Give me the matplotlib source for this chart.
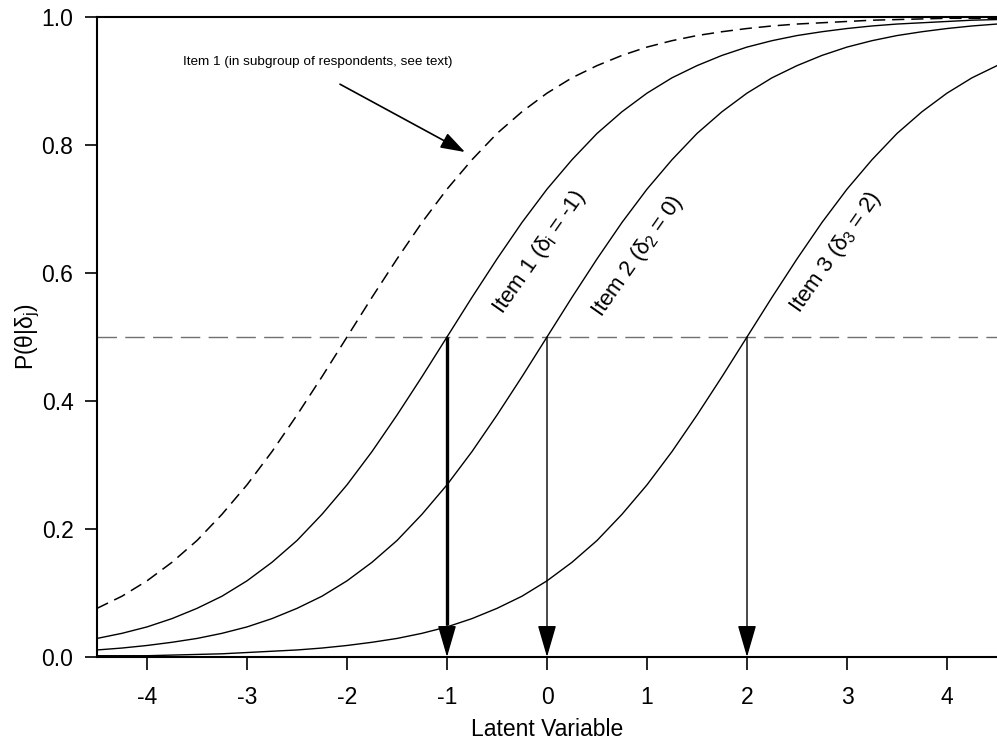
import numpy as np
import matplotlib
matplotlib.use("Agg")
import matplotlib.pyplot as plt

plt.rcParams['font.family'] = ['Liberation Sans', 'DejaVu Sans']
plt.rcParams['mathtext.fontset'] = 'custom'
plt.rcParams['mathtext.rm'] = 'Liberation Sans'
plt.rcParams['mathtext.it'] = 'Liberation Sans'
plt.rcParams['axes.unicode_minus'] = False

# latent variable grid (theta), step 0.25
theta = np.arange(-4.5, 4.51, 0.25)

# probabilities
item1_sub = [0.076, 0.095, 0.119, 0.148, 0.182, 0.223, 0.269, 0.321, 0.378, 0.438,
             0.500, 0.562, 0.622, 0.679, 0.731, 0.777, 0.818, 0.852, 0.881, 0.905,
             0.924, 0.940, 0.953, 0.963, 0.971, 0.977, 0.982, 0.986, 0.989, 0.991,
             0.993, 0.995, 0.996, 0.997, 0.998, 0.998, 0.998]
item1 = [0.029, 0.037, 0.047, 0.060, 0.076, 0.095, 0.119, 0.148, 0.182, 0.223,
         0.269, 0.321, 0.378, 0.438, 0.500, 0.562, 0.622, 0.679, 0.731, 0.777,
         0.818, 0.852, 0.881, 0.905, 0.924, 0.940, 0.953, 0.963, 0.971, 0.977,
         0.982, 0.986, 0.989, 0.991, 0.993, 0.995, 0.996]
item2 = [0.011, 0.014, 0.018, 0.023, 0.029, 0.037, 0.047, 0.060, 0.076, 0.095,
         0.119, 0.148, 0.182, 0.223, 0.269, 0.321, 0.378, 0.438, 0.500, 0.562,
         0.622, 0.679, 0.731, 0.777, 0.818, 0.852, 0.881, 0.905, 0.924, 0.940,
         0.953, 0.963, 0.971, 0.977, 0.982, 0.986, 0.989]
item3 = [0.002, 0.002, 0.002, 0.003, 0.004, 0.005, 0.007, 0.009, 0.011, 0.014,
         0.018, 0.023, 0.029, 0.037, 0.047, 0.060, 0.076, 0.095, 0.119, 0.148,
         0.182, 0.223, 0.269, 0.321, 0.378, 0.438, 0.500, 0.562, 0.622, 0.679,
         0.731, 0.777, 0.818, 0.852, 0.881, 0.905, 0.924]

# item difficulties (where P = 0.5)
deltas = [-1, 0, 2]
thick_arrow = [True, False, False]
labels = [r'Item 1 ($\delta_i$ = -1)', r'Item 2 ($\delta_2$ = 0)', r'Item 3 ($\delta_3$ = 2)']
label_pos = [(-0.08, 0.632), (0.91, 0.626), (2.89, 0.632)]

fig = plt.figure(figsize=(9.97, 7.42), dpi=100)
ax = fig.add_axes([97 / 997, 1 - 657 / 742, 900 / 997, 640 / 742])

ax.axhline(0.5, color='#707070', lw=1.0, ls=(0, (14, 6)), zorder=1)

ax.plot(theta, item1_sub, color='black', lw=1.1, ls=(0, (8, 4.5)))
ax.plot(theta, item1, color='black', lw=1.0)
ax.plot(theta, item2, color='black', lw=1.0)
ax.plot(theta, item3, color='black', lw=1.0)

for d, thick in zip(deltas, thick_arrow):
    ax.annotate('', xy=(d, 0.0), xytext=(d, 0.5),
                arrowprops=dict(arrowstyle='-|>,head_length=2.0,head_width=0.58',
                                color='black', lw=1.0, shrinkA=0, shrinkB=0))
    if thick:
        ax.plot([d, d], [0.5, 0.05], color='black', lw=2.4, solid_capstyle='butt')

for lab, (x, y) in zip(labels, label_pos):
    ax.text(x, y, lab, rotation=55, fontsize=16, ha='center', va='center',
            rotation_mode='anchor')

ax.annotate('', xy=(-0.82, 0.789), xytext=(-2.07, 0.895),
            arrowprops=dict(arrowstyle='-|>,head_length=1.5,head_width=0.5',
                            color='black', lw=1.2, shrinkA=0, shrinkB=0))
ax.text(-3.64, 0.93, 'Item 1 (in subgroup of respondents, see text)',
        fontsize=9.7, ha='left', va='center')

ax.set_xlim(-4.5, 4.5)
ax.set_ylim(0, 1.0)
ax.set_xticks([-4, -3, -2, -1, 0, 1, 2, 3, 4])
ax.set_yticks([0.0, 0.2, 0.4, 0.6, 0.8, 1.0])
ax.set_yticklabels(['0.0', '0.2', '0.4', '0.6', '0.8', '1.0'])
ax.tick_params(direction='out', length=9, width=1.2, labelsize=16.5)
ax.tick_params(axis='x', pad=12)
ax.tick_params(axis='y', pad=8)
ax.spines['right'].set_visible(False)
for s in ['top', 'bottom', 'left']:
    ax.spines[s].set_linewidth(1.5)

ax.set_xlabel('Latent Variable', fontsize=16.5, labelpad=6)
ax.set_ylabel(r'P($\theta$|$\delta_j$)', fontsize=16.5, labelpad=0)

fig.savefig('out.png', dpi=100)
